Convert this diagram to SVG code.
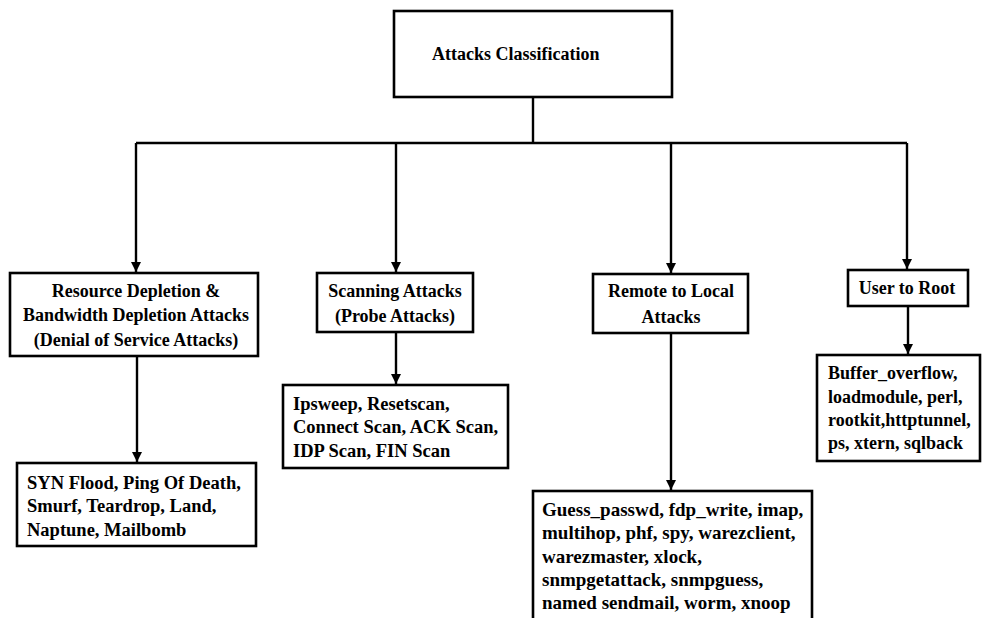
<svg xmlns="http://www.w3.org/2000/svg" width="988" height="618" viewBox="0 0 988 618">
<style>
.box{fill:#fff;stroke:#000;stroke-width:2.6}
.t{font-family:"Liberation Serif","Times New Roman",serif;font-weight:bold;font-size:18px;fill:#000}
.l{font-size:18.5px}
.c{text-anchor:middle}
.ln{fill:none;stroke:#000;stroke-width:2.4}
</style>
<defs>
<marker id="a" markerUnits="userSpaceOnUse" markerWidth="10" markerHeight="10" refX="10" refY="5" orient="auto" viewBox="0 0 10 10">
<path d="M0,0 L10,5 L0,10 Z" fill="#000"/>
</marker>
</defs>
<rect width="988" height="618" fill="#fff"/>
<g id="connectors">
<path class="ln" d="M533,97 V143"/>
<path class="ln" d="M136,143 H907"/>
<path class="ln" d="M136,143 V272" marker-end="url(#a)"/>
<path class="ln" d="M396,143 V272" marker-end="url(#a)"/>
<path class="ln" d="M671,143 V273" marker-end="url(#a)"/>
<path class="ln" d="M907,143 V269" marker-end="url(#a)"/>
<path class="ln" d="M137,356 V462" marker-end="url(#a)"/>
<path class="ln" d="M396,332 V384" marker-end="url(#a)"/>
<path class="ln" d="M671,333 V490" marker-end="url(#a)"/>
<path class="ln" d="M908,306 V354" marker-end="url(#a)"/>
</g>
<g id="root">
<rect class="box" x="394" y="11" width="278" height="86"/>
<text class="t" x="432" y="60">Attacks Classification</text>
</g>
<g id="dos">
<rect class="box" x="10" y="273" width="248" height="83"/>
<text class="t c" x="136" y="297">Resource Depletion &amp;</text>
<text class="t c" x="136" y="321">Bandwidth Depletion Attacks</text>
<text class="t c" x="136" y="346">(Denial of Service Attacks)</text>
</g>
<g id="probe">
<rect class="box" x="317" y="273" width="156" height="59"/>
<text class="t c" x="395" y="297">Scanning Attacks</text>
<text class="t c" x="395" y="322">(Probe Attacks)</text>
</g>
<g id="r2l">
<rect class="box" x="593" y="274" width="155" height="59"/>
<text class="t c" x="671" y="297">Remote to Local</text>
<text class="t c" x="671" y="323">Attacks</text>
</g>
<g id="u2r">
<rect class="box" x="848" y="270" width="120" height="36"/>
<text class="t c" x="907" y="294">User to Root</text>
</g>
<g id="dos-list">
<rect class="box" x="17" y="463" width="239" height="83"/>
<text class="t l" x="27" y="489">SYN Flood, Ping Of Death,</text>
<text class="t l" x="27" y="512">Smurf, Teardrop, Land,</text>
<text class="t l" x="27" y="536">Naptune, Mailbomb</text>
</g>
<g id="probe-list">
<rect class="box" x="283" y="385" width="225" height="83"/>
<text class="t l" x="293" y="410">Ipsweep, Resetscan,</text>
<text class="t l" x="293" y="433">Connect Scan, ACK Scan,</text>
<text class="t l" x="293" y="457">IDP Scan, FIN Scan</text>
</g>
<g id="r2l-list">
<rect class="box" x="533" y="491" width="279" height="140"/>
<text class="t" style="font-size:19px" x="542" y="516">Guess_passwd, fdp_write, imap,</text>
<text class="t" style="font-size:19px" x="542" y="539">multihop, phf, spy, warezclient,</text>
<text class="t" style="font-size:19px" x="542" y="563">warezmaster, xlock,</text>
<text class="t" style="font-size:19px" x="542" y="586">snmpgetattack, snmpguess,</text>
<text class="t" style="font-size:19px" x="542" y="609">named sendmail, worm, xnoop</text>
</g>
<g id="u2r-list">
<rect class="box" x="817" y="355" width="163" height="106"/>
<text class="t" x="828" y="379">Buffer_overflow,</text>
<text class="t" x="828" y="403">loadmodule, perl,</text>
<text class="t" x="828" y="426">rootkit,httptunnel,</text>
<text class="t" x="828" y="449">ps, xtern, sqlback</text>
</g>
</svg>
